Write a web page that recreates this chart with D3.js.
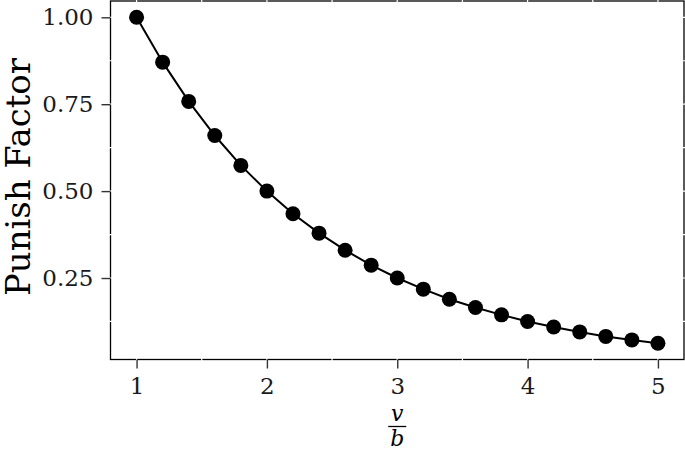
<!DOCTYPE html>
<html><head><meta charset="utf-8">
<script src="https://cdn.jsdelivr.net/npm/d3@7"></script>
<style>body{margin:0;background:#fff;} svg text{font-family:"DejaVu Serif",serif !important;}</style>
</head><body>
<svg id="c" width="685" height="450"></svg>
<script>
const xValues = [1.0,1.2,1.4,1.6,1.8,2.0,2.2,2.4,2.6,2.8,3.0,3.2,3.4,3.6,3.8,4.0,4.2,4.4,4.6,4.8,5.0];
const punish = [1.000,0.871,0.758,0.660,0.574,0.500,0.435,0.379,0.330,0.287,0.250,0.218,0.189,0.165,0.144,0.125,0.109,0.095,0.082,0.072,0.0625];
const xTicks = [1,2,3,4,5];
const yTicks = [0.25,0.50,0.75,1.00];
const xMinor = [1.5,2.5,3.5,4.5];
const yMinor = [0.125,0.375,0.625,0.875];

const svg = d3.select("#c");
const L=110.5, R=684, T=1, B=359.5;
const x = d3.scaleLinear().domain([0.8,5.2]).range([L,R]);
const y = d3.scaleLinear().domain([0.0156,1.0469]).range([B,T]);

// panel border
svg.append("rect").attr("x",L).attr("y",T).attr("width",R-L).attr("height",B-T)
  .attr("fill","#fff").attr("stroke","#000").attr("stroke-width",1.3);
// white grid lines over border
const g = svg.append("g").attr("stroke","#fff").attr("stroke-width",1.2);
[...xTicks,...xMinor].forEach(v=>g.append("line").attr("x1",x(v)).attr("x2",x(v)).attr("y1",T-2).attr("y2",B+2));
[...yTicks,...yMinor].forEach(v=>g.append("line").attr("y1",y(v)).attr("y2",y(v)).attr("x1",L-2).attr("x2",R+2));

// axes
const xAxis = d3.axisBottom(x).tickValues(xTicks).tickFormat(d3.format("d")).tickSize(9).tickPadding(9);
const yAxis = d3.axisLeft(y).tickValues(yTicks).tickFormat(d3.format(".2f")).tickSize(9).tickPadding(8);
const gx = svg.append("g").attr("transform",`translate(0,${B})`).call(xAxis);
const gy = svg.append("g").attr("transform",`translate(${L},0)`).call(yAxis);
[gx,gy].forEach(a=>{
  a.attr("font-family",null);
  a.select(".domain").remove();
  a.selectAll(".tick line").attr("stroke","#333").attr("stroke-width",1.4);
  a.selectAll(".tick text").attr("fill","#1a1a1a").style("font-size","23px");
});

// line and points
const pts = xValues.map((v,i)=>[v,punish[i]]);
svg.append("path").datum(pts)
  .attr("fill","none").attr("stroke","#000").attr("stroke-width",2)
  .attr("d",d3.line().x(d=>x(d[0])).y(d=>y(d[1])));
svg.append("g").selectAll("circle").data(pts).join("circle")
  .attr("cx",d=>x(d[0])).attr("cy",d=>y(d[1])).attr("r",7.5).attr("fill","#000");

// y label
svg.append("text").attr("transform",`translate(30,177) rotate(-90)`)
  .attr("text-anchor","middle").style("font-size","33px").attr("fill","#000")
  .attr("textLength",238).attr("lengthAdjust","spacingAndGlyphs").text("Punish Factor");

// x label fraction
const cx = x(3);
svg.append("text").attr("x",cx).attr("y",421).attr("text-anchor","middle")
  .style("font-size","22px").style("font-style","italic").text("v");
svg.append("line").attr("x1",cx-9).attr("x2",cx+9).attr("y1",426.5).attr("y2",426.5).attr("stroke","#000").attr("stroke-width",1.3);
svg.append("text").attr("x",cx).attr("y",446).attr("text-anchor","middle")
  .style("font-size","22px").style("font-style","italic").text("b");
</script>
</body></html>
